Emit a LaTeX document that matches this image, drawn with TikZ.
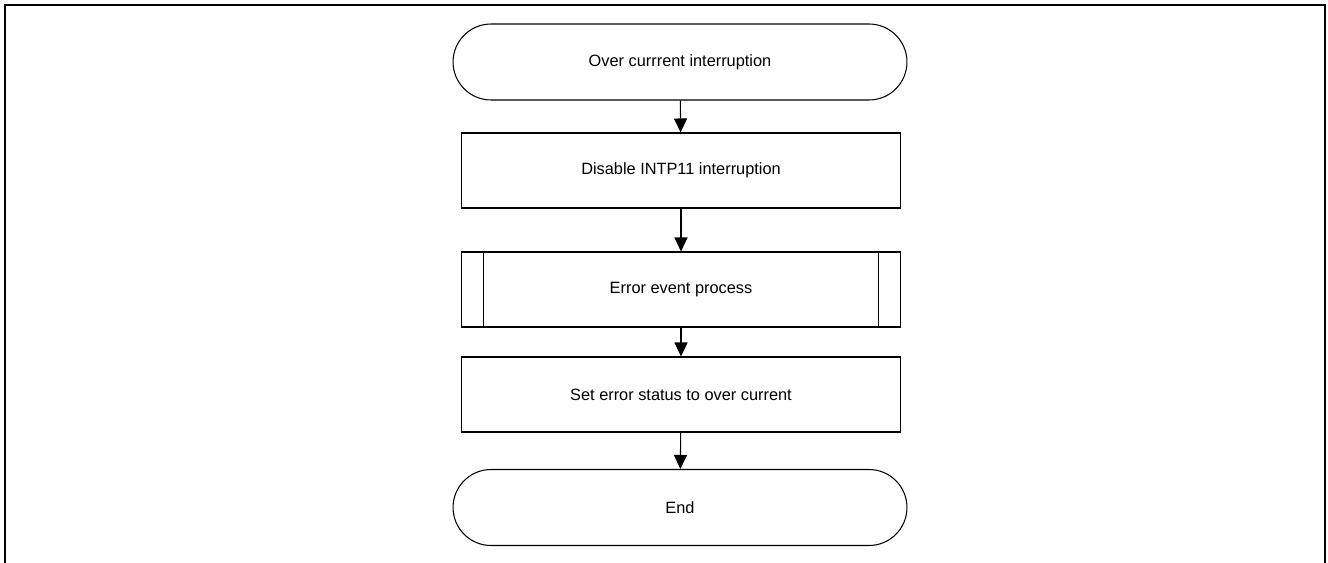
\documentclass[tikz,border=0pt]{standalone}
\usepackage{fontspec}
\setmainfont{Liberation Sans}
\usepackage{tikz}
\usetikzlibrary{arrows.meta,shapes.misc}

\tikzset{
    terminal/.style={draw,line width=0.6pt,rounded rectangle,minimum width=9.08cm,minimum height=1.52cm,inner sep=0pt},
    process/.style={draw,line width=0.6pt,rectangle,minimum width=8.8cm,minimum height=1.5cm,inner sep=0pt},
    flowarrow/.style={line width=0.6pt,-{Triangle[length=0.28cm,width=0.26cm]}}
}

\begin{document}
\begin{tikzpicture}[x=0.02cm,y=-0.02cm,font=\fontsize{9.3}{11}\selectfont]
    \useasboundingbox (0,0) rectangle (1328,563);
    \draw[line width=1.1pt] (5,563) -- (5,5) -- (1325,5) -- (1325,563);

    \node[terminal] (start) at (680,62) {Over currrent interruption};
    \node[process] (disable) at (681,170.5) {Disable INTP11 interruption};
    \node[process] (errproc) at (681,289.5) {Error event process};
    \draw[line width=0.6pt] ([xshift=0.46cm]errproc.north west) -- ([xshift=0.46cm]errproc.south west);
    \draw[line width=0.6pt] ([xshift=-0.46cm]errproc.north east) -- ([xshift=-0.46cm]errproc.south east);
    \node[process] (setstat) at (681,394.5) {Set error status to over current};
    \node[terminal] (finish) at (680,507.5) {End};

    \draw[flowarrow] (start) -- (disable);
    \draw[flowarrow] (disable) -- (errproc);
    \draw[flowarrow] (errproc) -- (setstat);
    \draw[flowarrow] (setstat) -- (finish);
\end{tikzpicture}
\end{document}
